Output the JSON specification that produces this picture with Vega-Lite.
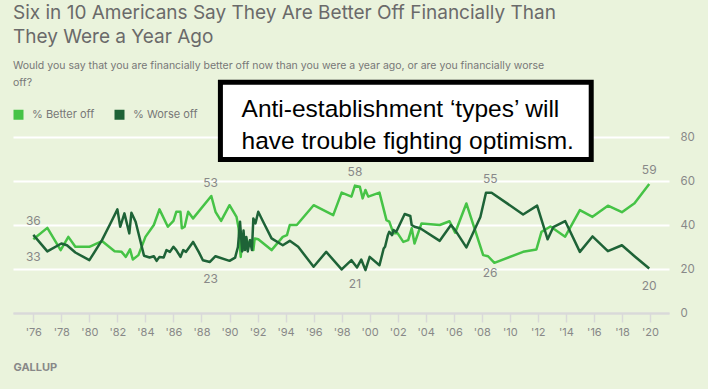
{
  "$schema": "https://vega.github.io/schema/vega-lite/v6.json",
  "width": 656,
  "height": 176,
  "autosize": "none",
  "padding": {"left": 13, "top": 137, "right": 39, "bottom": 76},
  "background": "#EAF3DC",
  "title": {
    "text": ["Six in 10 Americans Say They Are Better Off Financially Than", "They Were a Year Ago"],
    "subtitle": ["Would you say that you are financially better off now than you were a year ago, or are you financially worse", "off?"],
    "anchor": "start",
    "frame": "group",
    "font": "Inter",
    "fontSize": 19,
    "fontWeight": "normal",
    "color": "#6A6A6A",
    "lineHeight": 24,
    "subtitleFont": "Inter",
    "subtitleFontSize": 10.5,
    "subtitleColor": "#777777",
    "subtitleLineHeight": 17,
    "subtitlePadding": 14,
    "offset": -9
  },
  "datasets": {
    "series": [
      {"series": "% Better off", "year": 1976.0, "value": 33.5},
      {"series": "% Better off", "year": 1977.0, "value": 38.7},
      {"series": "% Better off", "year": 1977.95, "value": 28.6},
      {"series": "% Better off", "year": 1978.5, "value": 34.6},
      {"series": "% Better off", "year": 1979.0, "value": 30.1},
      {"series": "% Better off", "year": 1980.0, "value": 30.1},
      {"series": "% Better off", "year": 1980.9, "value": 32.7},
      {"series": "% Better off", "year": 1981.8, "value": 28.1},
      {"series": "% Better off", "year": 1982.3, "value": 27.8},
      {"series": "% Better off", "year": 1982.6, "value": 25.5},
      {"series": "% Better off", "year": 1982.9, "value": 28.9},
      {"series": "% Better off", "year": 1983.1, "value": 24.3},
      {"series": "% Better off", "year": 1983.5, "value": 26.3},
      {"series": "% Better off", "year": 1984.0, "value": 34.6},
      {"series": "% Better off", "year": 1984.6, "value": 40},
      {"series": "% Better off", "year": 1985.0, "value": 47.1},
      {"series": "% Better off", "year": 1985.6, "value": 39.2},
      {"series": "% Better off", "year": 1986.0, "value": 41.9},
      {"series": "% Better off", "year": 1986.2, "value": 46},
      {"series": "% Better off", "year": 1986.5, "value": 46},
      {"series": "% Better off", "year": 1986.6, "value": 38.5},
      {"series": "% Better off", "year": 1986.8, "value": 39.2},
      {"series": "% Better off", "year": 1987.05, "value": 46},
      {"series": "% Better off", "year": 1987.4, "value": 43},
      {"series": "% Better off", "year": 1988.7, "value": 53.2},
      {"series": "% Better off", "year": 1989.0, "value": 46},
      {"series": "% Better off", "year": 1989.4, "value": 41.9},
      {"series": "% Better off", "year": 1990.0, "value": 49},
      {"series": "% Better off", "year": 1990.5, "value": 43.7},
      {"series": "% Better off", "year": 1990.65, "value": 38.5},
      {"series": "% Better off", "year": 1990.8, "value": 25.5},
      {"series": "% Better off", "year": 1990.9, "value": 33.1},
      {"series": "% Better off", "year": 1991.0, "value": 28.6},
      {"series": "% Better off", "year": 1991.2, "value": 33.9},
      {"series": "% Better off", "year": 1991.3, "value": 30.8},
      {"series": "% Better off", "year": 1991.5, "value": 33.1},
      {"series": "% Better off", "year": 1991.7, "value": 28.6},
      {"series": "% Better off", "year": 1991.8, "value": 33.9},
      {"series": "% Better off", "year": 1992.05, "value": 33.5},
      {"series": "% Better off", "year": 1993.0, "value": 28.6},
      {"series": "% Better off", "year": 1993.8, "value": 34.6},
      {"series": "% Better off", "year": 1994.1, "value": 35.4},
      {"series": "% Better off", "year": 1994.3, "value": 40},
      {"series": "% Better off", "year": 1994.8, "value": 40},
      {"series": "% Better off", "year": 1996.0, "value": 49},
      {"series": "% Better off", "year": 1997.4, "value": 44.5},
      {"series": "% Better off", "year": 1998.0, "value": 54.7},
      {"series": "% Better off", "year": 1998.7, "value": 52.9},
      {"series": "% Better off", "year": 1998.95, "value": 57.9},
      {"series": "% Better off", "year": 1999.3, "value": 57.4},
      {"series": "% Better off", "year": 1999.5, "value": 52.1},
      {"series": "% Better off", "year": 1999.7, "value": 55.9},
      {"series": "% Better off", "year": 1999.9, "value": 52.9},
      {"series": "% Better off", "year": 2000.7, "value": 54.7},
      {"series": "% Better off", "year": 2001.2, "value": 42.2},
      {"series": "% Better off", "year": 2001.4, "value": 41.5},
      {"series": "% Better off", "year": 2001.7, "value": 36.2},
      {"series": "% Better off", "year": 2002.0, "value": 36.2},
      {"series": "% Better off", "year": 2002.4, "value": 32.3},
      {"series": "% Better off", "year": 2002.75, "value": 33.1},
      {"series": "% Better off", "year": 2003.0, "value": 38.5},
      {"series": "% Better off", "year": 2003.2, "value": 31.6},
      {"series": "% Better off", "year": 2003.7, "value": 40.7},
      {"series": "% Better off", "year": 2005.0, "value": 40},
      {"series": "% Better off", "year": 2005.7, "value": 41.7},
      {"series": "% Better off", "year": 2006.1, "value": 36.5},
      {"series": "% Better off", "year": 2006.9, "value": 49.8},
      {"series": "% Better off", "year": 2008.1, "value": 26.3},
      {"series": "% Better off", "year": 2008.45, "value": 25.8},
      {"series": "% Better off", "year": 2008.9, "value": 22.8},
      {"series": "% Better off", "year": 2010.95, "value": 27.8},
      {"series": "% Better off", "year": 2011.9, "value": 28.9},
      {"series": "% Better off", "year": 2012.26, "value": 36.9},
      {"series": "% Better off", "year": 2012.9, "value": 39.3},
      {"series": "% Better off", "year": 2013.95, "value": 34.7},
      {"series": "% Better off", "year": 2015.0, "value": 46.8},
      {"series": "% Better off", "year": 2015.9, "value": 43.7},
      {"series": "% Better off", "year": 2017.0, "value": 48.8},
      {"series": "% Better off", "year": 2018.0, "value": 45.8},
      {"series": "% Better off", "year": 2018.9, "value": 49.9},
      {"series": "% Better off", "year": 2019.95, "value": 58.6},
      {"series": "% Worse off", "year": 1976.0, "value": 35.5},
      {"series": "% Worse off", "year": 1977.0, "value": 28},
      {"series": "% Worse off", "year": 1978.0, "value": 31.6},
      {"series": "% Worse off", "year": 1978.4, "value": 30.8},
      {"series": "% Worse off", "year": 1979.0, "value": 27.5},
      {"series": "% Worse off", "year": 1980.0, "value": 24},
      {"series": "% Worse off", "year": 1980.9, "value": 33.1},
      {"series": "% Worse off", "year": 1981.5, "value": 40.7},
      {"series": "% Worse off", "year": 1982.0, "value": 47.1},
      {"series": "% Worse off", "year": 1982.2, "value": 39.2},
      {"series": "% Worse off", "year": 1982.5, "value": 45.3},
      {"series": "% Worse off", "year": 1982.85, "value": 36.2},
      {"series": "% Worse off", "year": 1983.0, "value": 45.6},
      {"series": "% Worse off", "year": 1983.3, "value": 41.5},
      {"series": "% Worse off", "year": 1983.9, "value": 26},
      {"series": "% Worse off", "year": 1984.3, "value": 25.2},
      {"series": "% Worse off", "year": 1984.6, "value": 25.8},
      {"series": "% Worse off", "year": 1984.8, "value": 23.7},
      {"series": "% Worse off", "year": 1985.0, "value": 25.5},
      {"series": "% Worse off", "year": 1985.3, "value": 25.2},
      {"series": "% Worse off", "year": 1985.5, "value": 28.6},
      {"series": "% Worse off", "year": 1985.75, "value": 27.8},
      {"series": "% Worse off", "year": 1986.0, "value": 30.1},
      {"series": "% Worse off", "year": 1986.2, "value": 28.6},
      {"series": "% Worse off", "year": 1986.5, "value": 25.5},
      {"series": "% Worse off", "year": 1986.7, "value": 28.6},
      {"series": "% Worse off", "year": 1986.9, "value": 27.8},
      {"series": "% Worse off", "year": 1987.4, "value": 32.3},
      {"series": "% Worse off", "year": 1987.8, "value": 27.8},
      {"series": "% Worse off", "year": 1988.1, "value": 24},
      {"series": "% Worse off", "year": 1988.6, "value": 23.2},
      {"series": "% Worse off", "year": 1989.0, "value": 25.8},
      {"series": "% Worse off", "year": 1990.0, "value": 23.7},
      {"series": "% Worse off", "year": 1990.4, "value": 25.2},
      {"series": "% Worse off", "year": 1990.6, "value": 30},
      {"series": "% Worse off", "year": 1990.75, "value": 41.5},
      {"series": "% Worse off", "year": 1990.9, "value": 28},
      {"series": "% Worse off", "year": 1991.0, "value": 37.5},
      {"series": "% Worse off", "year": 1991.1, "value": 28.6},
      {"series": "% Worse off", "year": 1991.2, "value": 34.5},
      {"series": "% Worse off", "year": 1991.3, "value": 28},
      {"series": "% Worse off", "year": 1991.45, "value": 33.1},
      {"series": "% Worse off", "year": 1991.6, "value": 28.6},
      {"series": "% Worse off", "year": 1991.7, "value": 43},
      {"series": "% Worse off", "year": 1991.85, "value": 40.7},
      {"series": "% Worse off", "year": 1992.05, "value": 46},
      {"series": "% Worse off", "year": 1992.4, "value": 41.5},
      {"series": "% Worse off", "year": 1993.0, "value": 33.9},
      {"series": "% Worse off", "year": 1993.8, "value": 30.8},
      {"series": "% Worse off", "year": 1994.3, "value": 32.8},
      {"series": "% Worse off", "year": 1994.9, "value": 30.1},
      {"series": "% Worse off", "year": 1996.0, "value": 21},
      {"series": "% Worse off", "year": 1996.9, "value": 27.8},
      {"series": "% Worse off", "year": 1998.0, "value": 19.8},
      {"series": "% Worse off", "year": 1998.7, "value": 24},
      {"series": "% Worse off", "year": 1999.1, "value": 20.7},
      {"series": "% Worse off", "year": 1999.4, "value": 24.3},
      {"series": "% Worse off", "year": 1999.7, "value": 19.5},
      {"series": "% Worse off", "year": 2000.0, "value": 25.5},
      {"series": "% Worse off", "year": 2000.7, "value": 21.7},
      {"series": "% Worse off", "year": 2001.0, "value": 29.3},
      {"series": "% Worse off", "year": 2001.1, "value": 30.1},
      {"series": "% Worse off", "year": 2001.3, "value": 35.4},
      {"series": "% Worse off", "year": 2001.4, "value": 36.9},
      {"series": "% Worse off", "year": 2001.6, "value": 35.4},
      {"series": "% Worse off", "year": 2001.7, "value": 37.7},
      {"series": "% Worse off", "year": 2001.9, "value": 36.9},
      {"series": "% Worse off", "year": 2002.5, "value": 45},
      {"series": "% Worse off", "year": 2002.9, "value": 44.1},
      {"series": "% Worse off", "year": 2003.0, "value": 40},
      {"series": "% Worse off", "year": 2003.2, "value": 39.2},
      {"series": "% Worse off", "year": 2003.6, "value": 38.5},
      {"series": "% Worse off", "year": 2005.0, "value": 32.8},
      {"series": "% Worse off", "year": 2005.8, "value": 40},
      {"series": "% Worse off", "year": 2006.1, "value": 37.7},
      {"series": "% Worse off", "year": 2006.9, "value": 29.8},
      {"series": "% Worse off", "year": 2007.9, "value": 43.6},
      {"series": "% Worse off", "year": 2008.3, "value": 54.7},
      {"series": "% Worse off", "year": 2008.7, "value": 54.7},
      {"series": "% Worse off", "year": 2010.95, "value": 44.8},
      {"series": "% Worse off", "year": 2011.95, "value": 48.8},
      {"series": "% Worse off", "year": 2012.7, "value": 33.5},
      {"series": "% Worse off", "year": 2013.1, "value": 39},
      {"series": "% Worse off", "year": 2013.95, "value": 41.8},
      {"series": "% Worse off", "year": 2015.0, "value": 27.8},
      {"series": "% Worse off", "year": 2015.9, "value": 34.8},
      {"series": "% Worse off", "year": 2017.0, "value": 28.1},
      {"series": "% Worse off", "year": 2018.0, "value": 30.8},
      {"series": "% Worse off", "year": 2018.9, "value": 25.8},
      {"series": "% Worse off", "year": 2019.95, "value": 20.2}
    ],
    "labels": [
      {"year": 1976.0, "value": 36, "pos": "top"},
      {"year": 1976.0, "value": 33, "pos": "bottom"},
      {"year": 1988.65, "value": 53, "pos": "top"},
      {"year": 1988.65, "value": 23, "pos": "bottom"},
      {"year": 1998.95, "value": 58, "pos": "top"},
      {"year": 1998.95, "value": 21, "pos": "bottom"},
      {"year": 2008.6, "value": 55, "pos": "top"},
      {"year": 2008.6, "value": 26, "pos": "bottom"},
      {"year": 2019.95, "value": 59, "pos": "top"},
      {"year": 2019.95, "value": 20, "pos": "bottom"}
    ],
    "note": [
      {"x1": 1989.35, "x2": 2015.81, "y1": 69.8, "y2": 104.9, "tx": 1990.86, "ty": 92.4, "note": ["Anti-establishment \u2018types\u2019 will", "have trouble fighting optimism."]}
    ]
  },
  "encoding": {
    "x": {
      "field": "year",
      "type": "quantitative",
      "scale": {"domain": [1974.55, 2021.36], "nice": false, "zero": false},
      "axis": {
        "orient": "bottom",
        "values": [1976, 1978, 1980, 1982, 1984, 1986, 1988, 1990, 1992, 1994, 1996, 1998, 2000, 2002, 2004, 2006, 2008, 2010, 2012, 2014, 2016, 2018, 2020],
        "labelExpr": "\"'\" + slice(toString(datum.value), 2)",
        "grid": false,
        "domainColor": "#D9D9D9",
        "domainWidth": 2,
        "tickColor": "#D9D9D9",
        "tickWidth": 1.5,
        "tickSize": 9,
        "labelColor": "#888888",
        "labelFont": "Inter",
        "labelFontSize": 11,
        "labelPadding": 4,
        "title": "GALLUP",
        "titleAnchor": "start",
        "titleAlign": "left",
        "titleFont": "Inter",
        "titleFontWeight": "bold",
        "titleFontSize": 11,
        "titleColor": "#888888",
        "titlePadding": 24
      }
    },
    "y": {
      "field": "value",
      "type": "quantitative",
      "scale": {"domain": [0, 80], "nice": false},
      "axis": {
        "orient": "right",
        "values": [0, 20, 40, 60, 80],
        "domain": false,
        "ticks": false,
        "grid": true,
        "gridColor": {"condition": {"test": "datum.value === 0", "value": "#D9D9D9"}, "value": "#FFFFFF"},
        "gridWidth": 2,
        "labelColor": "#888888",
        "labelFont": "Inter",
        "labelFontSize": 11.5,
        "labelPadding": 11,
        "title": null
      }
    }
  },
  "layer": [
    {
      "data": {"name": "series"},
      "mark": {"type": "line", "strokeWidth": 2.5, "strokeJoin": "round"},
      "encoding": {
        "color": {
          "field": "series",
          "type": "nominal",
          "scale": {"domain": ["% Better off", "% Worse off"], "range": ["#46C346", "#1E6337"]},
          "legend": {
            "orient": "none",
            "legendX": 0,
            "legendY": -28,
            "direction": "horizontal",
            "title": null,
            "symbolType": "square",
            "symbolSize": 16,
            "symbolStrokeWidth": 6,
            "symbolOpacity": 1,
            "labelFont": "Inter",
            "labelFontSize": 11,
            "labelColor": "#777777",
            "labelOffset": 8,
            "columnPadding": 10
          }
        }
      }
    },
    {
      "data": {"name": "labels"},
      "transform": [{"filter": "datum.pos === 'top'"}],
      "mark": {"type": "text", "dy": -13, "baseline": "middle", "align": "center", "font": "Inter", "fontSize": 12, "color": "#888888"},
      "encoding": {"text": {"field": "value", "type": "quantitative"}}
    },
    {
      "data": {"name": "labels"},
      "transform": [{"filter": "datum.pos === 'bottom'"}],
      "mark": {"type": "text", "dy": 17, "baseline": "middle", "align": "center", "font": "Inter", "fontSize": 12, "color": "#888888"},
      "encoding": {"text": {"field": "value", "type": "quantitative"}}
    },
    {
      "data": {"name": "note"},
      "mark": {"type": "rect", "fill": "#FFFFFF", "stroke": "#000000", "strokeWidth": 5, "clip": false},
      "encoding": {
        "x": {"field": "x1", "type": "quantitative"},
        "x2": {"field": "x2"},
        "y": {"field": "y1", "type": "quantitative"},
        "y2": {"field": "y2"}
      }
    },
    {
      "data": {"name": "note"},
      "mark": {"type": "text", "align": "left", "baseline": "middle", "font": "Liberation Sans", "fontSize": 24.5, "lineHeight": 32, "color": "#000000", "clip": false},
      "encoding": {
        "x": {"field": "tx", "type": "quantitative"},
        "y": {"field": "ty", "type": "quantitative"},
        "text": {"field": "note"}
      }
    }
  ],
  "config": {"view": {"stroke": null}}
}
